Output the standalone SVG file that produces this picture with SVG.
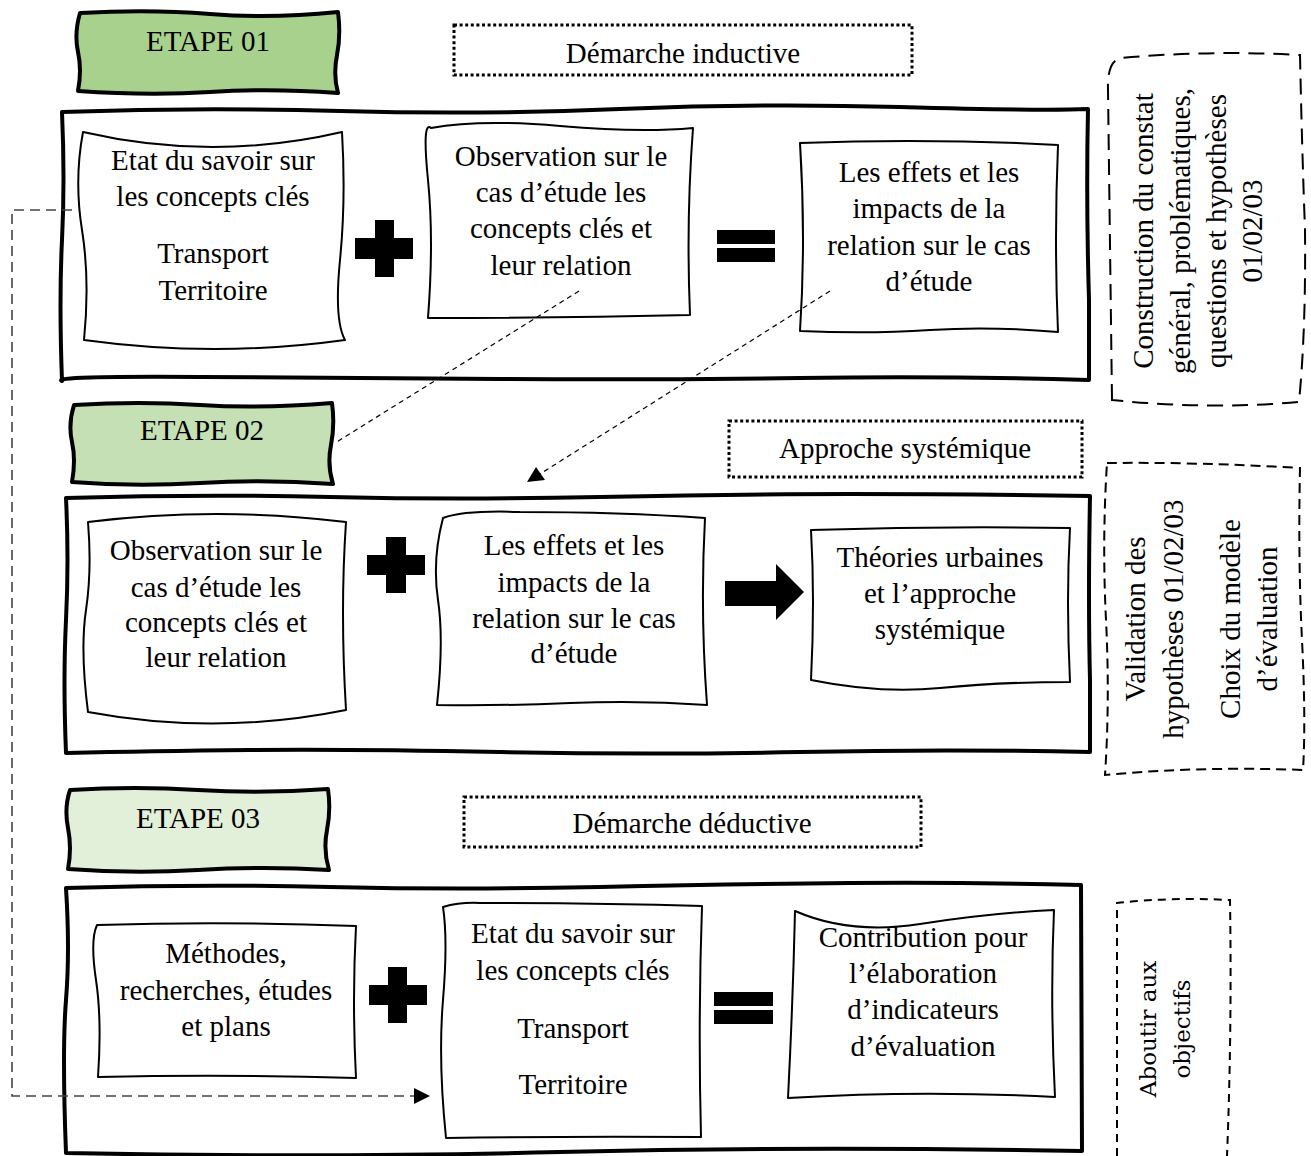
<svg xmlns="http://www.w3.org/2000/svg" width="1311" height="1156" viewBox="0 0 1311 1156">
  <style>
    .t { font-family: "Liberation Serif", "Times New Roman", serif; font-size: 29px; fill: #000; text-anchor: middle; }
    .t2 { font-family: "DejaVu Serif", serif; font-size: 23px; fill: #000; text-anchor: middle; }
    .frame { fill: #fff; stroke: #000; stroke-width: 4; stroke-linejoin: round; }
    .box { fill: #fff; stroke: #000; stroke-width: 2; stroke-linejoin: round; }
    .etape { stroke: #000; stroke-width: 4; stroke-linejoin: round; }
    .dotted { fill: #fff; stroke: #000; stroke-width: 3; stroke-dasharray: 3 2.6; }
    .dash1 { fill: none; stroke: #000; stroke-width: 2; stroke-dasharray: 16 9; }
    .dash2 { fill: none; stroke: #000; stroke-width: 2; stroke-dasharray: 10 6; }
    .dash3 { fill: none; stroke: #000; stroke-width: 2; stroke-dasharray: 8 6; }
    .sym { fill: #000; }
    .link { fill: none; stroke: #000; stroke-width: 1.2; stroke-dasharray: 5 4; }
    .loop { fill: none; stroke: #444; stroke-width: 1.6; stroke-dasharray: 10 6; }
  </style>

  <!-- Stage 1 -->
  <g id="etape01">
    <path class="etape" fill="#a9d18e" d="M80,13 Q150,9 210,14 T338,12 Q341,35 337,55 T338,93 Q270,88 210,92 T78,91 Q82,70 78,52 T80,13 Z"/>
    <text class="t" x="208" y="51">ETAPE 01</text>
  </g>
  <g id="demarche-inductive">
    <rect class="dotted" x="454" y="25" width="458" height="50"/>
    <text class="t" x="683" y="63">Démarche inductive</text>
  </g>
  <g id="stage1-frame">
    <path class="frame" d="M62,112 Q200,107 340,111 T620,109 T900,107 T1088,109 Q1086,200 1089,300 L1089,380 Q950,376 800,378 T500,379 T200,377 T62,381 Q59,300 62,240 T62,112 Z"/>
  </g>
  <g id="s1-etat">
    <path class="box" d="M83,132 Q213,162 342,132 Q346,200 340,260 T345,340 Q215,358 84,340 Q90,280 82,230 T83,132 Z"/>
    <text class="t" x="213" y="170">Etat du savoir sur</text>
    <text class="t" x="213" y="206">les concepts clés</text>
    <text class="t" x="213" y="263">Transport</text>
    <text class="t" x="213" y="300">Territoire</text>
  </g>
  <g id="s1-plus">
    <path class="sym" d="M375,220 H394 V238 H413 V259 H394 V277 H375 V259 H355 V238 H375 Z"/>
  </g>
  <g id="s1-observation">
    <path class="box" d="M431,128 Q480,119 560,126 T693,128 Q686,220 690,315 Q560,318 428,318 Q434,240 428,180 T431,128 Z"/>
    <text class="t" x="561" y="166">Observation sur le</text>
    <text class="t" x="561" y="202">cas d’étude les</text>
    <text class="t" x="561" y="238">concepts clés et</text>
    <text class="t" x="561" y="275">leur relation</text>
  </g>
  <g id="s1-equals">
    <rect class="sym" x="717" y="230" width="58" height="14"/>
    <rect class="sym" x="717" y="248" width="58" height="14"/>
  </g>
  <g id="s1-effets">
    <path class="box" d="M800,143 Q930,138 1058,145 Q1054,240 1058,332 Q990,326 930,330 T800,331 Q806,240 800,143 Z"/>
    <text class="t" x="929" y="182">Les effets et les</text>
    <text class="t" x="929" y="218">impacts de la</text>
    <text class="t" x="929" y="255">relation sur le cas</text>
    <text class="t" x="929" y="291">d’étude</text>
  </g>

  <!-- Stage 2 -->
  <g id="etape02">
    <path class="etape" fill="#c5e0b4" d="M74,405 Q140,401 200,405 T332,403 Q335,425 331,445 T333,484 Q265,479 200,483 T72,482 Q76,460 72,442 T74,405 Z"/>
    <text class="t" x="202" y="440">ETAPE 02</text>
  </g>
  <g id="approche-systemique">
    <rect class="dotted" x="729" y="421" width="353" height="56"/>
    <text class="t" x="905" y="458">Approche systémique</text>
  </g>
  <g id="stage2-frame">
    <path class="frame" d="M66,498 Q200,494 330,497 T600,497 T850,494 T1090,496 Q1088,600 1090,680 L1090,752 Q950,749 800,752 T500,752 T250,750 T66,753 Q63,680 66,620 T66,498 Z"/>
  </g>
  <g id="s2-observation">
    <path class="box" d="M88,522 Q217,506 346,522 Q340,610 346,710 Q217,736 88,712 Q80,650 86,610 T88,522 Z"/>
    <text class="t" x="216" y="560">Observation sur le</text>
    <text class="t" x="216" y="597">cas d’étude les</text>
    <text class="t" x="216" y="632">concepts clés et</text>
    <text class="t" x="216" y="667">leur relation</text>
  </g>
  <g id="s2-plus">
    <path class="sym" d="M386,537 H406 V555 H425 V575 H406 V593 H386 V575 H367 V555 H386 Z"/>
  </g>
  <g id="s2-effets">
    <path class="box" d="M443,518 Q465,510 520,512 Q620,512 705,518 Q700,610 707,705 Q640,700 570,703 T437,705 Q444,640 438,600 T443,518 Z"/>
    <text class="t" x="574" y="555">Les effets et les</text>
    <text class="t" x="574" y="592">impacts de la</text>
    <text class="t" x="574" y="628">relation sur le cas</text>
    <text class="t" x="574" y="663">d’étude</text>
  </g>
  <g id="s2-arrow">
    <path class="sym" d="M725,581 H776 V564 L804,592 L776,620 V606 H725 Z"/>
  </g>
  <g id="s2-theories">
    <path class="box" d="M811,530 Q940,526 1070,528 Q1066,600 1070,682 Q1000,682 940,688 T811,680 Q815,600 811,530 Z"/>
    <text class="t" x="940" y="567">Théories urbaines</text>
    <text class="t" x="940" y="603">et l’approche</text>
    <text class="t" x="940" y="639">systémique</text>
  </g>

  <!-- Stage 3 -->
  <g id="etape03">
    <path class="etape" fill="#e2efd9" d="M70,790 Q135,786 198,790 T328,789 Q331,810 327,830 T329,870 Q262,866 198,870 T68,869 Q72,848 68,828 T70,790 Z"/>
    <text class="t" x="198" y="828">ETAPE 03</text>
  </g>
  <g id="demarche-deductive">
    <rect class="dotted" x="464" y="797" width="457" height="50"/>
    <text class="t" x="692" y="833">Démarche déductive</text>
  </g>
  <g id="stage3-frame">
    <path class="frame" d="M66,888 Q200,884 330,887 T600,887 T850,883 T1081,885 L1082,1151 Q800,1146 560,1152 T66,1153 Q62,1050 66,1000 T66,888 Z"/>
  </g>
  <g id="s3-methodes">
    <path class="box" d="M97,925 Q226,921 356,926 Q352,1000 356,1078 Q226,1074 98,1077 Q102,1020 96,980 T97,925 Z"/>
    <text class="t" x="226" y="963">Méthodes,</text>
    <text class="t" x="226" y="1000">recherches, études</text>
    <text class="t" x="226" y="1036">et plans</text>
  </g>
  <g id="s3-plus">
    <path class="sym" d="M388,967 H407 V985 H427 V1005 H407 V1023 H388 V1005 H369 V985 H388 Z"/>
  </g>
  <g id="s3-etat">
    <path class="box" d="M443,907 Q460,902 480,903 Q600,903 702,906 Q698,1020 701,1137 Q570,1136 446,1138 Q438,1060 443,1000 T443,907 Z"/>
    <text class="t" x="573" y="943">Etat du savoir sur</text>
    <text class="t" x="573" y="980">les concepts clés</text>
    <text class="t" x="573" y="1038">Transport</text>
    <text class="t" x="573" y="1094">Territoire</text>
  </g>
  <g id="s3-equals">
    <rect class="sym" x="714" y="992" width="59" height="14"/>
    <rect class="sym" x="714" y="1010" width="59" height="14"/>
  </g>
  <g id="s3-contribution">
    <path class="box" d="M795,911 Q850,935 920,924 T1054,910 Q1050,1000 1055,1097 Q920,1090 788,1098 Q793,1000 795,911 Z"/>
    <text class="t" x="923" y="947">Contribution pour</text>
    <text class="t" x="923" y="983">l’élaboration</text>
    <text class="t" x="923" y="1019">d’indicateurs</text>
    <text class="t" x="923" y="1056">d’évaluation</text>
  </g>

  <!-- Side notes -->
  <g id="note-construction">
    <path class="dash1" d="M1112,400 L1108,90 Q1107,62 1120,58 Q1210,50 1300,55 Q1302,150 1305,230 Q1306,330 1299,402 Q1210,410 1112,400 Z"/>
    <text class="t" transform="translate(1153,231) rotate(-90)">Construction du constat</text>
    <text class="t" transform="translate(1190,231) rotate(-90)">général, problématiques,</text>
    <text class="t" transform="translate(1226,231) rotate(-90)">questions et hypothèses</text>
    <text class="t" transform="translate(1262,231) rotate(-90)">01/02/03</text>
  </g>
  <g id="note-validation">
    <path class="dash2" d="M1107,463 Q1200,462 1300,468 Q1298,560 1302,640 T1303,770 Q1200,766 1105,775 Q1110,700 1106,620 T1107,463 Z"/>
    <text class="t" transform="translate(1145,619) rotate(-90)">Validation des</text>
    <text class="t" transform="translate(1183,619) rotate(-90)">hypothèses 01/02/03</text>
    <text class="t" transform="translate(1240,619) rotate(-90)">Choix du modèle</text>
    <text class="t" transform="translate(1277,619) rotate(-90)">d’évaluation</text>
  </g>
  <g id="note-objectifs">
    <path class="dash3" d="M1117,1156 L1117,903 Q1170,897 1230,900 Q1232,1030 1227,1156"/>
    <text class="t2" transform="translate(1156,1029) rotate(-90)">Aboutir aux</text>
    <text class="t2" transform="translate(1190,1029) rotate(-90)">objectifs</text>
  </g>

  <!-- Connectors -->
  <g id="connectors">
    <path class="loop" d="M72,210 H12 V1096 H414"/>
    <path class="sym" fill="#444" d="M414,1088 L430,1096 L414,1104 Z"/>
    <path class="link" d="M579,291 L335,443"/>
    <path class="link" d="M830,291 L540,474"/>
    <path class="sym" d="M527,482 L536,467 L545,480 Z"/>
  </g>
</svg>
